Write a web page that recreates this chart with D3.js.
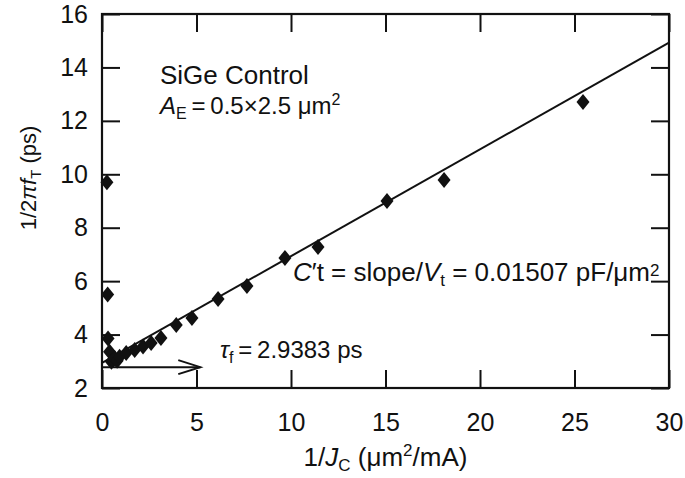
<!DOCTYPE html>
<html>
<head>
<meta charset="utf8">
<style>
body { margin: 0; background: #fff; }
text { font-family: "Liberation Sans", Arial, sans-serif; fill: #111; }
</style>
</head>
<body>
<div id="canvas"></div>
<script src="https://cdn.jsdelivr.net/npm/d3@7"></script>
<script>

// measured points: 1/Jc (um^2/mA) vs 1/2pi fT (ps)
const invJc = [0.26, 0.3, 0.32, 0.4, 0.5, 0.58, 0.67, 0.8, 0.93, 1.28, 1.73, 2.17, 2.6, 3.12, 3.93, 4.76, 6.14, 7.67, 9.68, 11.43, 15.08, 18.1, 25.45];
const tauT  = [9.7, 5.5, 3.85, 3.36, 2.98, 3.05, 3.12, 3.02, 3.17, 3.31, 3.42, 3.55, 3.68, 3.87, 4.36, 4.62, 5.33, 5.82, 6.87, 7.28, 9.0, 9.79, 12.71];

// linear fit
const fitIntercept = 2.9383;
const fitSlope = 0.3997;
const fitRange = [0, 30];

const xTicks = [0, 5, 10, 15, 20, 25, 30];
const yTicks = [2, 4, 6, 8, 10, 12, 14, 16];

const W = 685, H = 478;
const svg = d3.select("#canvas").append("svg")
    .attr("width", W)
    .attr("height", H);

const x = d3.scaleLinear().domain([0, 30]).range([102, 669]);
const y = d3.scaleLinear().domain([2, 16]).range([388, 14]);

const tick = 18;

// axes, ticks pointing inward
svg.append("g")
    .attr("transform", `translate(0,${y(2)})`)
    .call(d3.axisBottom(x).tickValues(xTicks).tickSizeInner(-tick).tickSizeOuter(0).tickPadding(25))
    .call(g => g.select(".domain").remove());
svg.append("g")
    .attr("transform", `translate(${x(0)},0)`)
    .call(d3.axisLeft(y).tickValues(yTicks).tickSizeInner(-tick).tickSizeOuter(0).tickPadding(14))
    .call(g => g.select(".domain").remove());
svg.append("g")
    .attr("transform", `translate(0,${y(16)})`)
    .call(d3.axisTop(x).tickValues(xTicks).tickSizeInner(-tick).tickSizeOuter(0).tickFormat(""))
    .call(g => g.select(".domain").remove());
svg.append("g")
    .attr("transform", `translate(${x(30)},0)`)
    .call(d3.axisRight(y).tickValues(yTicks).tickSizeInner(-tick).tickSizeOuter(0).tickFormat(""))
    .call(g => g.select(".domain").remove());

svg.selectAll(".tick line").attr("stroke", "#111").attr("stroke-width", 2);
svg.selectAll(".tick text")
    .attr("font-family", "Liberation Sans, Arial, sans-serif")
    .attr("font-size", 25)
    .attr("fill", "#111");

// frame
svg.append("rect")
    .attr("x", x(0)).attr("y", y(16))
    .attr("width", x(30) - x(0)).attr("height", y(2) - y(16))
    .attr("fill", "none").attr("stroke", "#111").attr("stroke-width", 2.2);

// fit line
const line = d3.line().x(d => x(d)).y(d => y(fitIntercept + fitSlope * d));
svg.append("path")
    .datum(fitRange)
    .attr("d", line)
    .attr("fill", "none")
    .attr("stroke", "#111")
    .attr("stroke-width", 2);

// intercept arrow
const arrowY = 2.78, arrowEnd = 5.2;
svg.append("line")
    .attr("x1", x(0)).attr("x2", x(arrowEnd))
    .attr("y1", y(arrowY)).attr("y2", y(arrowY))
    .attr("stroke", "#111").attr("stroke-width", 2);
svg.append("path")
    .attr("d", `M${x(arrowEnd) - 22},${y(arrowY) - 7} L${x(arrowEnd)},${y(arrowY)} L${x(arrowEnd) - 22},${y(arrowY) + 7}`)
    .attr("fill", "none").attr("stroke", "#111").attr("stroke-width", 2);

// diamonds
const pts = invJc.map((v, i) => [v, tauT[i]]);
svg.append("g").selectAll("path")
    .data(pts)
    .join("path")
    .attr("transform", d => `translate(${x(d[0])},${y(d[1])})`)
    .attr("d", "M0,-8 L6.5,0 L0,8 L-6.5,0 Z")
    .attr("fill", "#111");

// annotations
svg.append("text")
    .attr("x", 160).attr("y", 84)
    .attr("font-size", 26)
    .text("SiGe Control");

const ae = svg.append("text").attr("x", 160).attr("y", 114).attr("font-size", 24);
ae.append("tspan").attr("font-style", "italic").text("A");
ae.append("tspan").attr("font-size", 16).attr("dy", 5).text("E");
ae.append("tspan").attr("dy", -5).text("\u2009=\u20090.5\u00d72.5 \u03bcm");
ae.append("tspan").attr("font-size", 16).attr("dy", -9).text("2");

const ct = svg.append("text").attr("x", 293).attr("y", 281).attr("font-size", 26);
ct.append("tspan").attr("font-style", "italic").text("C");
ct.append("tspan").text("\u2032t = slope/");
ct.append("tspan").attr("font-style", "italic").text("V");
ct.append("tspan").attr("font-size", 17).attr("dy", 5).text("t");
ct.append("tspan").attr("dy", -5).text(" = 0.01507 pF/\u03bcm");
ct.append("tspan").attr("font-size", 17).attr("dy", -5).text("2");

const tf = svg.append("text").attr("x", 220).attr("y", 358).attr("font-size", 24);
tf.append("tspan").attr("font-style", "italic").text("\u03c4");
tf.append("tspan").attr("font-size", 16).attr("dy", 5).text("f");
tf.append("tspan").attr("dy", -5).text("\u2009=\u20092.9383 ps");

// axis titles
const xt = svg.append("text")
    .attr("x", (x(0) + x(30)) / 2).attr("y", 466)
    .attr("text-anchor", "middle").attr("font-size", 26);
xt.append("tspan").text("1/");
xt.append("tspan").attr("font-style", "italic").text("J");
xt.append("tspan").attr("font-size", 17).attr("dy", 5).text("C");
xt.append("tspan").attr("dy", -5).text(" (\u03bcm");
xt.append("tspan").attr("font-size", 17).attr("dy", -10).text("2");
xt.append("tspan").attr("dy", 10).text("/mA)");

const yt = svg.append("text")
    .attr("transform", "translate(36,178) rotate(-90)")
    .attr("text-anchor", "middle").attr("font-size", 22);
yt.append("tspan").text("1/2");
yt.append("tspan").attr("font-style", "italic").text("\u03c0f");
yt.append("tspan").attr("font-size", 15).attr("dy", 5).text("T");
yt.append("tspan").attr("dy", -5).text(" (ps)");

</script>
</body>
</html>
